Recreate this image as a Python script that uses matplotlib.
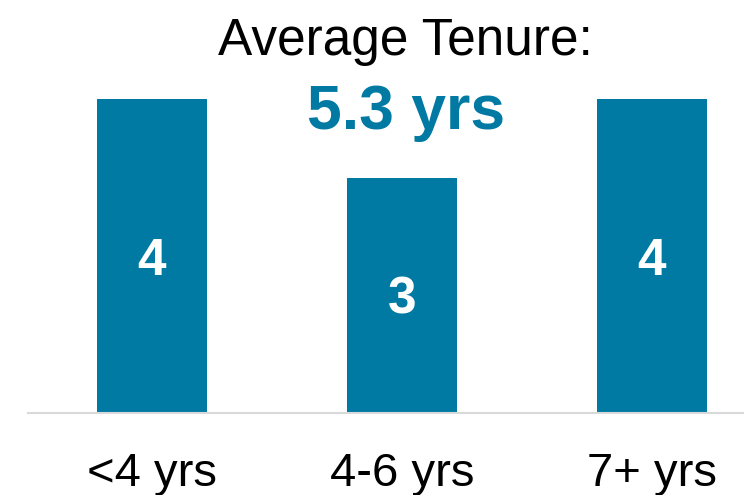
import matplotlib
matplotlib.use("Agg")
import matplotlib.pyplot as plt

categories = ["<4 yrs", "4-6 yrs", "7+ yrs"]
values = [4, 3, 4]
title_line1 = "Average Tenure:"
title_line2 = "5.3 yrs"

TEAL = "#0079A3"
plt.rcParams['font.family'] = ['Liberation Sans', 'DejaVu Sans']

W, H = 744, 495
fig = plt.figure(figsize=(W / 100, H / 100), dpi=100)
ax = fig.add_axes([28 / W, (H - 413) / H, 1 - 28 / W, 314 / H])

x = list(range(len(categories)))
bars = ax.bar(x, values, width=0.44, color=TEAL, zorder=2)
ax.set_xlim(-0.496, 2.368)
ax.set_ylim(0, 4)

for xi, v in zip(x, values):
    ax.annotate(str(v), (xi, v / 2), xytext=(0, -13.5), textcoords='offset points',
                ha='center', va='baseline', color='white',
                fontsize=37, fontweight='bold')

for s in ['top', 'right', 'left']:
    ax.spines[s].set_visible(False)
ax.spines['bottom'].set_color('#d9d9d9')
ax.spines['bottom'].set_linewidth(1.5)
ax.set_yticks([])
ax.set_xticks(x)
ax.set_xticklabels(categories, fontsize=34)
ax.tick_params(axis='x', length=0, pad=28)

fig.text(405.5 / W, 1 - 55 / H, title_line1, ha='center', va='baseline',
         fontsize=37, color='black')
fig.text(406 / W, 1 - 129 / H, title_line2, ha='center', va='baseline',
         fontsize=45, color=TEAL, fontweight='bold')

fig.savefig("out.png", dpi=100)
